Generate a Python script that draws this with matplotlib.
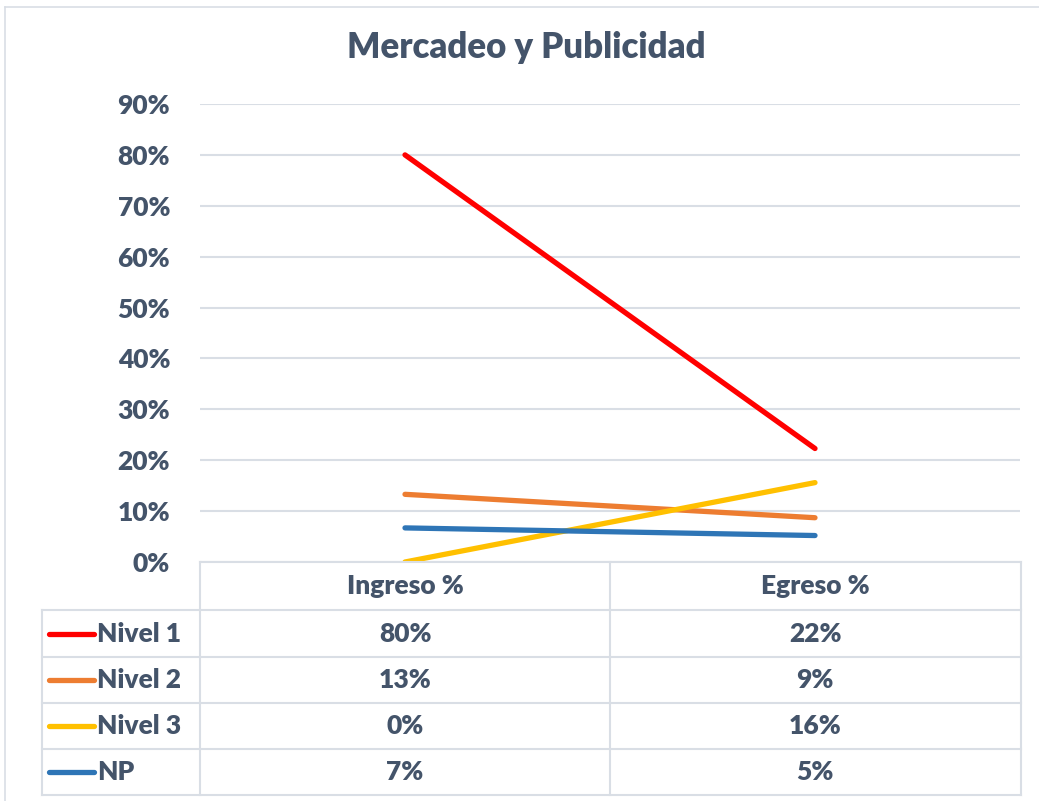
import numpy as np
import matplotlib.pyplot as plt
from matplotlib.lines import Line2D

plt.rcParams['font.family'] = ['Lato', 'DejaVu Sans']

# === datos ===
categorias = ['Ingreso %', 'Egreso %']
series = ['Nivel 1', 'Nivel 2', 'Nivel 3', 'NP']
nivel1 = [0.80, 0.223]
nivel2 = [0.133, 0.087]
nivel3 = [0.0, 0.156]
np_vals = [0.067, 0.052]
valores = [nivel1, nivel2, nivel3, np_vals]
colores = ['#FF0000', '#ED7D31', '#FFC000', '#2E75B6']
y_ticks = [0, 0.1, 0.2, 0.3, 0.4, 0.5, 0.6, 0.7, 0.8, 0.9]

TXT = '#44546A'
GRID = '#D9DEE5'
PESO = 'heavy'
W, H = 1039, 801


def fx(x):
    return x / W


def fy(y):
    return 1 - y / H


fig = plt.figure(figsize=(W / 100, H / 100), dpi=100)
fig.patch.set_facecolor('white')

# marco exterior
fig.add_artist(Line2D([fx(5), fx(5)], [fy(7), fy(801)], color=GRID, lw=1.2))
fig.add_artist(Line2D([fx(5), fx(1039)], [fy(7), fy(7)], color=GRID, lw=1.2))

ax = fig.add_axes([fx(200), fy(562), fx(1020) - fx(200), fy(104) - fy(562)])
x = np.arange(len(categorias))
for vals, col in zip(valores, colores):
    ax.plot(x, vals, color=col, lw=3.8, solid_capstyle='round', zorder=3)

ax.set_xlim(-0.5, len(categorias) - 0.5)
ax.set_ylim(0, 0.9)
ax.set_yticks(y_ticks)
ax.set_yticklabels([f'{v:.0%}' for v in y_ticks], fontsize=19, fontweight=PESO, color=TXT)
ax.set_xticks([])
ax.tick_params(axis='y', length=0, pad=21.5)
for s in ax.spines.values():
    s.set_visible(False)
ax.grid(axis='y', color=GRID, lw=1.5)
ax.set_axisbelow(True)

fig.text(0.507, fy(48), 'Mercadeo y Publicidad', ha='center', va='center',
         fontsize=25, fontweight=PESO, color=TXT)

# === tabla de datos ===
filas = [562, 610, 657, 703, 749, 795]
xl, xm, xd, xr = 42, 200, 610, 1021
kw = dict(color=GRID, lw=1.5)
# horizontales
fig.add_artist(Line2D([fx(xm), fx(xr)], [fy(filas[0])] * 2, **kw))
for yy in filas[1:]:
    fig.add_artist(Line2D([fx(xl), fx(xr)], [fy(yy)] * 2, **kw))
# verticales
fig.add_artist(Line2D([fx(xl)] * 2, [fy(filas[1]), fy(filas[-1])], **kw))
for xx in (xm, xd, xr):
    fig.add_artist(Line2D([fx(xx)] * 2, [fy(filas[0]), fy(filas[-1])], **kw))

centros = [405, 815]
for c, cat in zip(centros, categorias):
    fig.text(fx(c), fy((filas[0] + filas[1]) / 2), cat, ha='center', va='center',
             fontsize=19, fontweight=PESO, color=TXT)

for i, (nombre, vals, col) in enumerate(zip(series, valores, colores)):
    yc = fy((filas[i + 1] + filas[i + 2]) / 2)
    fig.add_artist(Line2D([fx(49), fx(94)], [yc, yc], color=col, lw=3.8, solid_capstyle='round'))
    fig.text(fx(97), yc, nombre, ha='left', va='center', fontsize=19, fontweight=PESO, color=TXT)
    for c, v in zip(centros, vals):
        fig.text(fx(c), yc, f'{v:.0%}', ha='center', va='center',
                 fontsize=19, fontweight=PESO, color=TXT)

plt.savefig('out.png', dpi=100, facecolor='white')
